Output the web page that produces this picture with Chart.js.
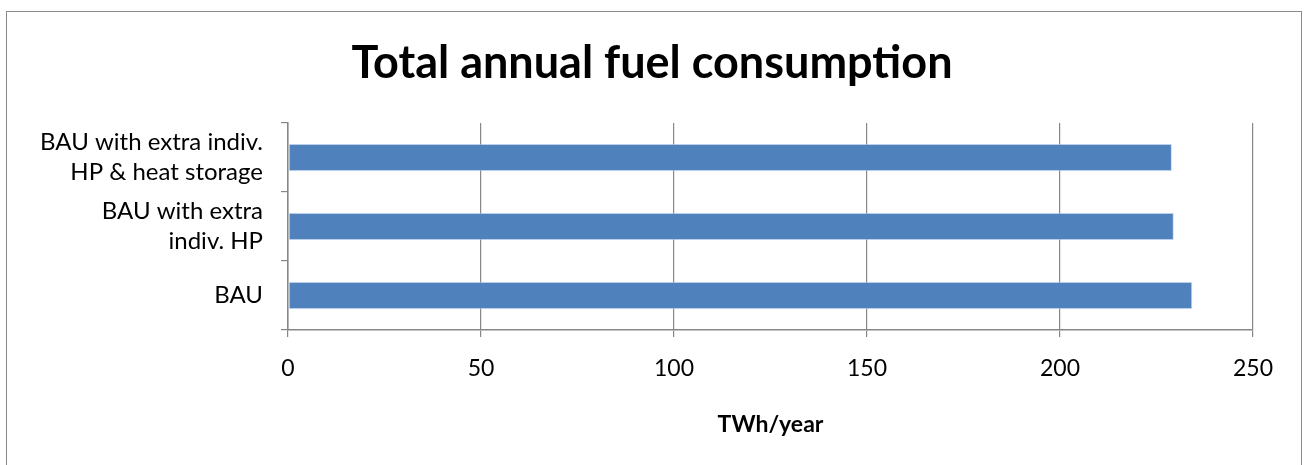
<!DOCTYPE html>
<html>
<head>
<meta charset="utf-8">
<script src="https://cdn.jsdelivr.net/npm/chart.js@4"></script>
<style>
  html, body { margin: 0; padding: 0; background: #fff; }
  #wrap { position: relative; width: 1304px; height: 465px; overflow: hidden; }
  #frame {
    position: absolute; left: 6px; top: 11px; width: 1294px; height: 500px;
    border: 1.5px solid #8a8a8a; pointer-events: none;
  }
</style>
</head>
<body>
<div id="wrap">
  <canvas id="fuelChart" width="1304" height="465"></canvas>
  <div id="frame"></div>
</div>
<script>
// Scenario names (top to bottom) and annual fuel use in TWh/year
const scenarios = [
    ['BAU with extra indiv.', 'HP & heat storage'],
    ['BAU with extra', 'indiv. HP'],
    'BAU'
];
const fuelConsumption = [229.0, 229.5, 234.3];
const xTicks = [0, 50, 100, 150, 200, 250];

const axisGrey = '#878787';
const barBlue = '#4F81BD';

const canvas = document.getElementById('fuelChart');

new Chart(canvas, {
    type: 'bar',
    data: {
        labels: scenarios,
        datasets: [{
            label: 'Total annual fuel consumption',
            data: fuelConsumption,
            backgroundColor: barBlue,
            borderColor: 'rgba(200, 220, 240, 0.8)',
            borderWidth: 1,
            borderSkipped: false,
            barPercentage: 0.4,
            categoryPercentage: 1
        }]
    },
    options: {
        indexAxis: 'y',
        responsive: false,
        animation: false,
        layout: {
            padding: 0
        },
        plugins: {
            legend: { display: false },
            tooltip: { enabled: false },
            title: {
                display: true,
                text: 'Total annual fuel consumption',
                color: '#000',
                font: { family: 'Lato', size: 45, weight: 'bold', lineHeight: 1.2 },
                padding: { top: 36, bottom: 33 }
            }
        },
        scales: {
            x: {
                min: 0,
                max: 250,
                afterBuildTicks: function(scale) {
                    scale.ticks = xTicks.map(v => ({ value: v }));
                },
                afterFit: function(scale) {
                    scale.height = 135;
                },
                border: { display: true, color: axisGrey, width: 1.5 },
                grid: {
                    color: axisGrey,
                    lineWidth: 1.2,
                    tickLength: 7,
                    drawOnChartArea: true
                },
                ticks: {
                    color: '#000',
                    padding: 18,
                    font: { family: 'Lato', size: 23 }
                },
                title: {
                    display: true,
                    text: 'TWh/year',
                    color: '#000',
                    font: { family: 'Lato', size: 23, weight: 'bold', lineHeight: 1.2 },
                    padding: { top: 27, bottom: 27 }
                }
            },
            y: {
                afterFit: function(scale) {
                    scale.width = 288;
                },
                border: { display: true, color: axisGrey, width: 1.5 },
                grid: {
                    offset: true,
                    color: axisGrey,
                    lineWidth: 1.2,
                    tickLength: 7,
                    drawOnChartArea: false
                },
                ticks: {
                    color: '#000',
                    padding: 18,
                    font: { family: 'Lato', size: 24, lineHeight: 1.25 }
                }
            },
            // empty right-hand strip so the plot stops short of the frame
            yRight: {
                type: 'category',
                position: 'right',
                display: true,
                afterFit: function(scale) {
                    scale.width = 51;
                },
                border: { display: false },
                grid: { display: false },
                ticks: { display: false }
            }
        }
    }
});
</script>
</body>
</html>
